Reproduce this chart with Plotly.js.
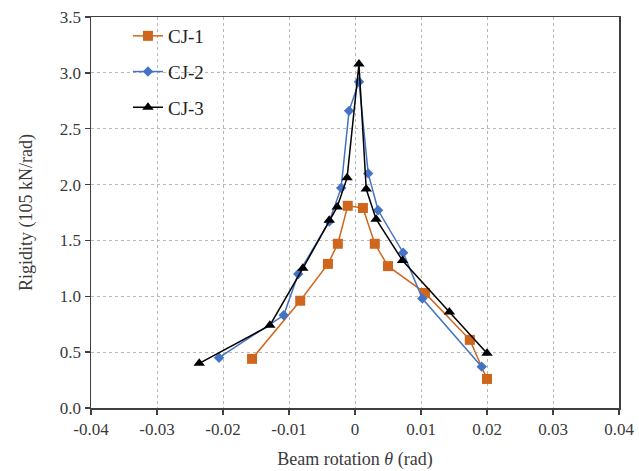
<!DOCTYPE html>
<html>
<head>
<meta charset="utf-8">
<script src="https://cdn.plot.ly/plotly-3.0.1.min.js"></script>
<style>html,body{margin:0;padding:0;background:#fff;}#chart{width:639px;height:471px;}</style>
</head>
<body>
<div id="chart"></div>
<script>
const seriesNames = ["CJ-1", "CJ-2", "CJ-3"];
const cj1X = [-0.0156, -0.0083, -0.0041, -0.0026, -0.0011, 0.0012, 0.0030, 0.0050, 0.0106, 0.0174, 0.0200];
const cj1Y = [0.44, 0.96, 1.29, 1.47, 1.81, 1.79, 1.47, 1.27, 1.03, 0.61, 0.26];
const cj2X = [-0.0206, -0.0108, -0.0086, -0.0039, -0.0021, -0.0009, 0.0006, 0.0020, 0.0035, 0.0073, 0.0102, 0.0192];
const cj2Y = [0.45, 0.83, 1.20, 1.67, 1.97, 2.66, 2.92, 2.10, 1.77, 1.39, 0.98, 0.37];
const cj3X = [-0.0236, -0.0129, -0.0079, -0.0039, -0.0027, -0.0012, 0.0006, 0.0017, 0.0032, 0.0072, 0.0143, 0.0200];
const cj3Y = [0.40, 0.74, 1.25, 1.68, 1.80, 2.06, 3.08, 1.96, 1.69, 1.32, 0.86, 0.49];
const xTickVals = [-0.04, -0.03, -0.02, -0.01, 0, 0.01, 0.02, 0.03, 0.04];
const xTickText = ["-0.04", "-0.03", "-0.02", "-0.01", "0", "0.01", "0.02", "0.03", "0.04"];
const yTickVals = [0, 0.5, 1.0, 1.5, 2.0, 2.5, 3.0, 3.5];
const yTickText = ["0.0", "0.5", "1.0", "1.5", "2.0", "2.5", "3.0", "3.5"];

const font = "Liberation Serif, Times New Roman, serif";
const txt = "#3a3a3a";
const traces = [
  {x: cj1X, y: cj1Y, name: seriesNames[0], legendgroup: "a", mode: "lines+markers", type: "scatter",
   line: {color: "#D0661E", width: 1.5}, marker: {symbol: "square", size: 10, color: "#D0661E"}},
  {x: cj2X, y: cj2Y, name: seriesNames[1], legendgroup: "b", mode: "lines+markers", type: "scatter",
   line: {color: "#4472C4", width: 1.5}, marker: {symbol: "diamond", size: 8, color: "#4472C4"}},
  {x: cj3X, y: cj3Y, name: seriesNames[2], legendgroup: "c", mode: "lines+markers", type: "scatter",
   line: {color: "#000000", width: 1.5}, marker: {symbol: "triangle-up", size: 10, color: "#000000"}}
];
const axisCommon = {
  showline: true, mirror: true, linecolor: "#404040", linewidth: 1.5,
  ticks: "outside", ticklen: 5, tickcolor: "#404040", tickwidth: 1.5,
  showgrid: true, gridcolor: "#b8b8b8", griddash: "dot", gridwidth: 1,
  zeroline: false, tickfont: {family: font, size: 17, color: txt}
};
const layout = {
  width: 639, height: 471,
  margin: {l: 91, r: 20, t: 17, b: 63},
  paper_bgcolor: "#fff", plot_bgcolor: "#fff",
  font: {family: font, color: txt},
  xaxis: Object.assign({}, axisCommon, {
    range: [-0.04, 0.04], tickmode: "array", tickvals: xTickVals, ticktext: xTickText,
    title: {text: "Beam rotation <i>θ</i> (rad)", font: {family: font, size: 18, color: txt}, standoff: 14}
  }),
  yaxis: Object.assign({}, axisCommon, {
    range: [0, 3.5], tickmode: "array", tickvals: yTickVals, ticktext: yTickText,
    title: {text: "Rigidity (105 kN/rad)", font: {family: font, size: 18, color: txt}, standoff: 22}
  }),
  legend: {x: 0.07, y: 1.0, xanchor: "left", yanchor: "top", bgcolor: "rgba(0,0,0,0)",
    font: {family: font, size: 19, color: "#222"}, tracegroupgap: 8, itemwidth: 30},
  showlegend: true
};
Plotly.newPlot("chart", traces, layout, {displayModeBar: false, staticPlot: true});
</script>
</body>
</html>
